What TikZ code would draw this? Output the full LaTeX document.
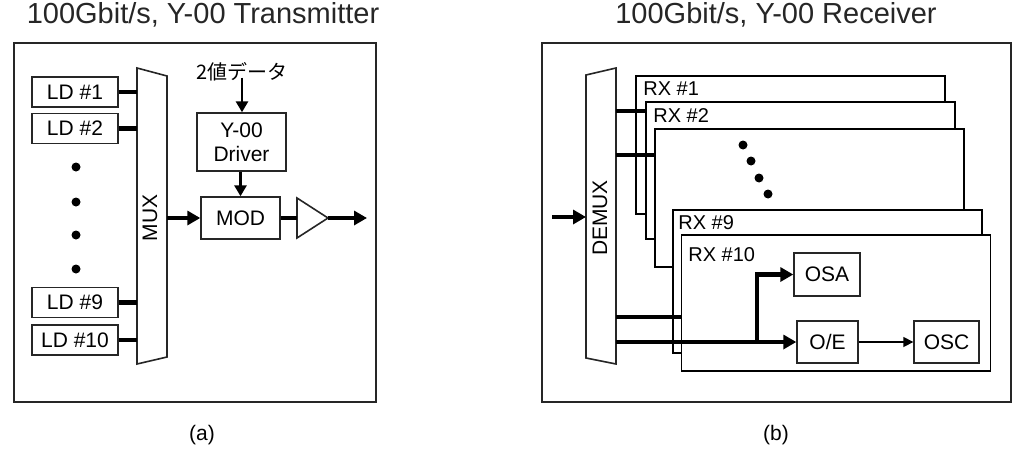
\documentclass[tikz,border=0pt]{standalone}
\usepackage{fontspec}
\setmainfont{Liberation Sans}
\newfontfamily\jpfont{Noto Sans CJK JP}
\usetikzlibrary{arrows.meta}
\tikzset{
  frame/.style    = {draw=black!85, line width=1pt},
  blk/.style      = {draw=black!85, fill=white, line width=0.7pt, font=\fontsize{10.5}{12}\selectfont, inner sep=0pt, align=center},
  rxbox/.style    = {draw=black, fill=white, line width=0.9pt, inner sep=0pt},
  rxlbl/.style    = {font=\fontsize{10}{12}\selectfont, anchor=west, inner sep=0pt},
  ttl/.style      = {font=\fontsize{14.5}{16}\selectfont, inner sep=0pt, text=black!85},
  sublbl/.style   = {font=\fontsize{10.5}{12}\selectfont, inner sep=0pt},
  vtxt/.style     = {font=\fontsize{10.5}{12}\selectfont, rotate=90, inner sep=0pt},
  mux/.style      = {draw=black!85, fill=white, line width=0.8pt},
  fat/.style      = {line width=2.4pt},
  fatarrow/.style = {line width=2.4pt, -{Triangle[length=6.5pt,width=7pt]}},
  medarrow/.style = {line width=1.4pt, -{Triangle[length=5.5pt,width=6pt]}},
  thinarrow/.style= {line width=0.8pt, -{Triangle[length=5pt,width=5pt]}},
  dot/.style      = {circle, fill=black, inner sep=0pt, minimum size=4.5pt},
}

\begin{document}
\begin{tikzpicture}[x=0.5pt,y=-0.5pt]
  \useasboundingbox (0,0) rectangle (1015,465);

  % ---------- (a) transmitter ----------
  \node[ttl] (txtitle) at (203,15) {100Gbit/s, Y-00 Transmitter};
  \draw[frame] (13.5,43) rectangle (376,402);

  \draw[mux] (137,68) -- (167,76) -- (167,357) -- (137,364) -- cycle;
  \node[vtxt] (muxlbl) at (150,218) {MUX};
  \coordinate (muxw) at (137,218);
  \coordinate (muxe) at (167,218);

  \foreach \n/\txt/\y in {ld1/{LD \#1}/92, ld2/{LD \#2}/128.5, ld9/{LD \#9}/302.5, ld10/{LD \#10}/340} {
    \node[blk, minimum width=43pt, minimum height=15pt] (\n) at (75,\y) {\txt};
    \draw[fat] (\n.east) -- (\n.east -| muxw);
  }
  \foreach \y [count=\i] in {167,202,235,269}
    \node[dot] (txdot\i) at (76,\y) {};

  \node[inner sep=0pt, font=\jpfont\fontsize{10}{12}\selectfont] (data) at (242,72) {2値データ};
  \node[blk, minimum width=44.5pt, minimum height=29pt] (drv) at (241.5,142) {Y-00\\Driver};
  \node[blk, minimum width=39.5pt, minimum height=21pt] (mod) at (240.5,218) {MOD};
  \draw[medarrow] (data.south) ++(0,-4) coordinate (datab) -- (datab |- drv.north);
  \draw[medarrow] (drv.south -| mod.north) -- (mod.north);
  \draw[fatarrow] (muxe) -- (mod.west);

  \coordinate (ampin) at (297,218);
  \coordinate (amptip) at (328,218);
  \coordinate (txout) at (367,218);
  \draw[mux] (297,198) -- (amptip) -- (297,238) -- cycle;
  \draw[fat] (mod.east) -- (ampin);
  \draw[fatarrow] (amptip) -- (txout);

  \node[sublbl] (capa) at (202,435) {(a)};

  % ---------- (b) receiver ----------
  \node[ttl] (rxtitle) at (776,15) {100Gbit/s, Y-00 Receiver};
  \draw[frame] (542,43) rectangle (1011,402);

  \draw[mux] (586,75) -- (616,68) -- (616,364) -- (586,358) -- cycle;
  \node[vtxt] (demuxlbl) at (600,218) {DEMUX};
  \coordinate (rxin) at (552,217);
  \coordinate (demuxw) at (586,217);
  \draw[fatarrow] (rxin) -- (demuxw);

  \foreach \n/\x/\y/\h in {rx1/790.5/145/138, rx2/800.5/170.5/137, rx3/809.5/198/138, rx9/827.5/281.5/143, rx10/836/303/136}
    \node[rxbox, minimum width=154.5pt, minimum height=\h*0.5pt] (\n) at (\x,\y) {};
  \node[rxlbl] (rx1lbl) at (643,89) {RX \#1};
  \node[rxlbl] (rx2lbl) at (653,116) {RX \#2};
  \node[rxlbl] (rx9lbl) at (678,223) {RX \#9};
  \node[rxlbl] (rx10lbl) at (688,255) {RX \#10};
  \foreach \x/\y [count=\i] in {743/145, 751/161, 759/178, 768/194}
    \node[dot] (rxdot\i) at (\x,\y) {};

  \node[blk, minimum width=33pt, minimum height=21.5pt] (osa) at (827,274.5) {OSA};
  \node[blk, minimum width=30.5pt, minimum height=21pt] (oe) at (827.5,342) {O/E};
  \node[blk, minimum width=32.5pt, minimum height=21pt] (osc) at (946.5,342) {OSC};

  \coordinate (d1) at (616,111);
  \coordinate (d2) at (616,155);
  \coordinate (d9) at (616,317);
  \coordinate (d10) at (616,342);
  \coordinate (br) at (757,342);
  \draw[fat] (d1) -- (d1 -| rx2.west);
  \draw[fat] (d2) -- (d2 -| rx3.west);
  \draw[fat] (d9) -- (d9 -| rx10.west);
  \draw[fatarrow] (d10) -- (oe.west);
  \draw[fatarrow] (br) |- (osa.west);
  \draw[thinarrow] (oe.east) -- (osc.west);

  \node[sublbl] (capb) at (776,435) {(b)};
\end{tikzpicture}
\end{document}
